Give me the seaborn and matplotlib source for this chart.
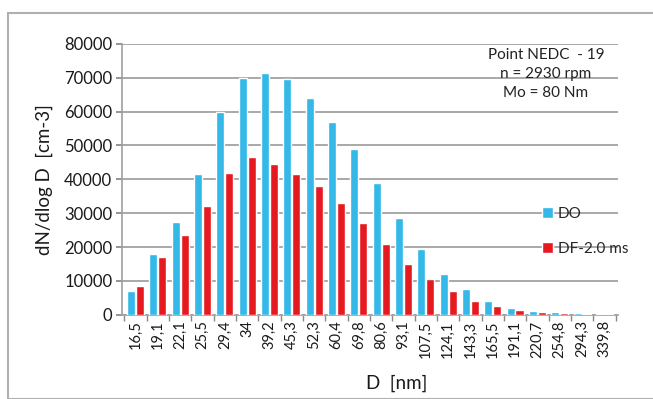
import matplotlib
matplotlib.use("Agg")
import matplotlib.pyplot as plt
import seaborn as sns
import pandas as pd
from matplotlib.patches import Rectangle

categories = ["16,5", "19,1", "22,1", "25,5", "29,4", "34", "39,2", "45,3", "52,3",
              "60,4", "69,8", "80,6", "93,1", "107,5", "124,1", "143,3", "165,5",
              "191,1", "220,7", "254,8", "294,3", "339,8"]
do_values = [7000, 18000, 27500, 41500, 60000, 70000, 71500, 69500, 64000, 57000,
             49000, 39000, 28500, 19500, 12000, 7500, 4000, 2000, 1200, 800, 600, 300]
df_values = [8500, 17000, 23500, 32000, 42000, 46500, 44500, 41500, 38000, 33000,
             27000, 21000, 15000, 10500, 7000, 4000, 2500, 1300, 800, 500, 300, 100]
series_names = ["DO", "DF-2.0 ms"]
yticks = [0, 10000, 20000, 30000, 40000, 50000, 60000, 70000, 80000]

data = pd.DataFrame({
    "D": categories * 2,
    "val": do_values + df_values,
    "series": [series_names[0]] * len(categories) + [series_names[1]] * len(categories),
})

sns.set_theme(style="white")
plt.rcParams['font.family'] = ['Lato', 'DejaVu Sans']

fig = plt.figure(figsize=(6.53, 3.99), dpi=100)
ax = fig.add_axes([0.187, 0.211, 0.759, 0.679])

# outer border
fig.patches.append(Rectangle((8/653, 0.0), 1.2, 1 - 13/399, transform=fig.transFigure,
                             fill=False, edgecolor="#b0b0b0", linewidth=1.5))

palette = {"DO": "#33b8e8", "DF-2.0 ms": "#e51a20"}
sns.barplot(data=data, x="D", y="val", hue="series", palette=palette, ax=ax,
            width=0.8, gap=0.1, saturation=1, legend=True, zorder=3)

ax.set_ylim(0, 80000)
ax.set_yticks(yticks)
ax.set_yticklabels([str(v) for v in yticks], fontsize=12, color="#1a1a1a")
ax.set_xlim(-0.6, len(categories) - 0.4)
ax.tick_params(axis="x", labelrotation=90, labelsize=10.5, length=0, pad=4, labelcolor="#1a1a1a")
ax.tick_params(axis="y", length=4, color="#888888", direction="out", left=True, pad=3)
ax.yaxis.grid(True, color="#a8a8a8", linewidth=1.4, zorder=0)
ax.set_axisbelow(True)
for s in ["top", "right"]:
    ax.spines[s].set_visible(False)
ax.spines["left"].set_color("#a0a0a0")
ax.spines["bottom"].set_color("#a0a0a0")
ax.spines["left"].set_linewidth(1.2)
ax.spines["bottom"].set_linewidth(1.2)
ax.set_xticks([i + 0.5 for i in range(-1, len(categories))], minor=True)
ax.tick_params(axis="x", which="minor", length=4, color="#888888", bottom=True)

ax.set_xlabel("D  [nm]", fontsize=13.5, labelpad=8, color="#1a1a1a")
ax.xaxis.set_label_coords(0.555, -0.22)
ax.set_ylabel("dN/dlog D  [cm-3]", fontsize=13.5, labelpad=8, color="#1a1a1a")

ax.text(0.855, 0.985, "Point NEDC  - 19\nn = 2930 rpm\nMo = 80 Nm", transform=ax.transAxes,
        ha="center", va="top", fontsize=11, linespacing=1.45, color="#222222")

leg = ax.legend(loc="upper left", bbox_to_anchor=(0.82, 0.45), frameon=False,
                fontsize=11, handlelength=0.7, handleheight=0.7, handletextpad=0.3,
                labelspacing=1.4)

fig.savefig("out.png", dpi=100)
